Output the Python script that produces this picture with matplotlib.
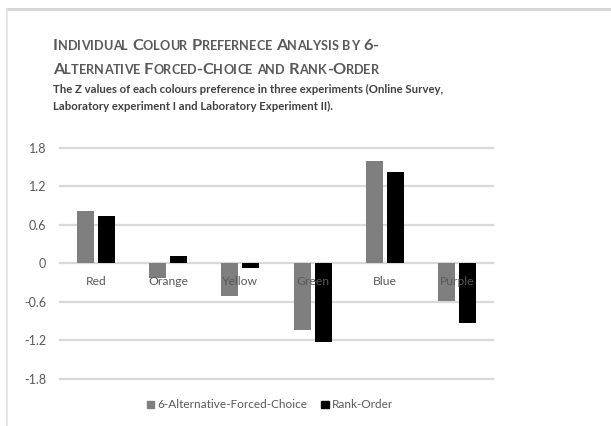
import numpy as np
import matplotlib
matplotlib.use("Agg")
import matplotlib.pyplot as plt
from matplotlib.patches import Patch
from matplotlib.lines import Line2D
from matplotlib.transforms import IdentityTransform
from matplotlib.font_manager import FontProperties

# Z values of colour preference for each method
colours = ["Red", "Orange", "Yellow", "Green", "Blue", "Purple"]
afc_values = [0.82, -0.22, -0.51, -1.04, 1.59, -0.59]
rank_values = [0.74, 0.11, -0.07, -1.22, 1.43, -0.92]
series_names = ["6-Alternative-Forced-Choice", "Rank-Order"]
y_ticks = [-1.8, -1.2, -0.6, 0, 0.6, 1.2, 1.8]

title_lines = ["Individual Colour Prefernece Analysis by 6-",
               "Alternative Forced-Choice and Rank-Order"]
subtitle_lines = ["The Z values of each colours preference in three experiments (Online Survey,",
                  "Laboratory experiment I and Laboratory Experiment II)."]

FONT = "Lato"
GREY_TXT = "#595959"
W, H = 611, 426

fig = plt.figure(figsize=(W / 100, H / 100), dpi=100)
fig.patch.set_facecolor("white")

# thin frame on top and left edge
fig.add_artist(Line2D([7 / W, 1], [1 - 9 / H, 1 - 9 / H], color="#d4d4d4", lw=2, transform=fig.transFigure))
fig.add_artist(Line2D([7 / W, 7 / W], [0, 1 - 9 / H], color="#e2e2e2", lw=1.2, transform=fig.transFigure))

ax = fig.add_axes([60 / W, 1 - 379 / H, 433 / W, (379 - 148) / H])
x = np.arange(len(colours))
bw = 0.235
off = 0.145
ax.bar(x - off, afc_values, bw, color="#7f7f7f", zorder=3)
ax.bar(x + off, rank_values, bw, color="black", zorder=3)

ax.set_xlim(-0.5, len(colours) - 0.5)
ax.set_ylim(-1.8, 1.8)
for t in y_ticks:
    ax.axhline(t, color="#d9d9d9", lw=1.6, zorder=1, clip_on=False)
for s in ax.spines.values():
    s.set_visible(False)
ax.set_xticks([])
ax.set_yticks(y_ticks)
ax.set_yticklabels([f"{t:g}" for t in y_ticks], fontfamily=FONT, fontsize=9, color=GREY_TXT)
ax.tick_params(axis="y", length=0, pad=10)

for i, name in enumerate(colours):
    ax.annotate(name, (i, 0), xytext=(0, -18), textcoords="offset pixels",
                ha="center", va="center", fontfamily=FONT, fontsize=8.7,
                color=GREY_TXT, zorder=4)

handles = [Patch(color="#7f7f7f"), Patch(color="black")]
fig.legend(handles, series_names, loc="center", bbox_to_anchor=(270 / W, 1 - 405 / H),
           ncol=2, frameon=False, prop={"family": FONT, "size": 8.5},
           labelcolor=GREY_TXT, handlelength=0.6, handleheight=0.6,
           handletextpad=0.3, columnspacing=1.2)

# small-caps title drawn run by run
renderer = fig.canvas.get_renderer()


def text_width(s, size, weight):
    fp = FontProperties(family=FONT, size=size, weight=weight)
    w, _, _ = renderer.get_text_width_height_descent(s, fp, ismath=False)
    return w


def small_caps(line, x0, y0, big, small, weight="bold", color=GREY_TXT):
    xpos = x0
    for ch in line:
        if ch == " ":
            xpos += text_width("X X", big, weight) - text_width("XX", big, weight)
            continue
        size = small if ch.islower() else big
        glyph = ch.upper()
        fig.text(xpos, H - y0, glyph, transform=IdentityTransform(), fontfamily=FONT,
                 fontsize=size, fontweight=weight, color=color, va="baseline")
        xpos += text_width(glyph, size, weight)


small_caps(title_lines[0], 53, 50, 11.8, 9.1)
small_caps(title_lines[1], 53, 74, 11.8, 9.1)

for j, line in enumerate(subtitle_lines):
    fig.text(53 / W, 1 - (93 + 17 * j) / H, line, fontfamily=FONT, fontsize=8.2,
             fontweight="bold", color="#404040", va="baseline")

fig.savefig("out.png", dpi=100)
